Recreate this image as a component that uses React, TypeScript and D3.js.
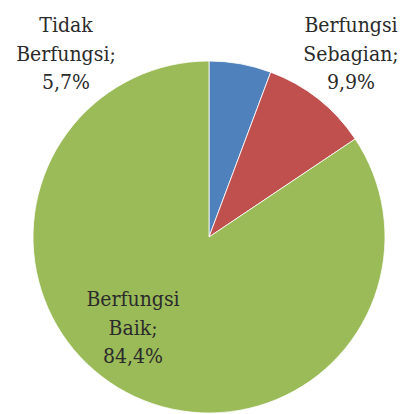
import React from "react";
import * as d3 from "d3";

const categories = ["Tidak Berfungsi", "Berfungsi Sebagian", "Berfungsi Baik"];
const values = [5.7, 9.9, 84.4];
const labelLines = [
  ["Tidak", "Berfungsi;", "5,7%"],
  ["Berfungsi", "Sebagian;", "9,9%"],
  ["Berfungsi", "Baik;", "84,4%"],
];
const colors = ["#4F81BD", "#C0504D", "#9BBB59"];

const W = 401;
const H = 414;
const cx = 209;
const cy = 237;
const R = 176;
// label anchor positions (center x, first baseline y)
const labelPos = [
  [66, 32],
  [351, 32],
  [133, 306],
];
const lineH = 28.5;

export default function App() {
  const pie = d3
    .pie<number>()
    .sort(null)
    .value((d) => d)(values);
  const arc = d3.arc<d3.PieArcDatum<number>>().innerRadius(0).outerRadius(R);

  return (
    <svg
      width={W}
      height={H}
      style={{ position: "absolute", left: 0, top: 0, background: "#fff" }}
    >
      <g transform={`translate(${cx},${cy})`}>
        {pie.map((p, i) => (
          <path
            key={categories[i]}
            d={arc(p) || ""}
            fill={colors[i]}
            stroke="#ffffff"
            strokeWidth={0.8}
          />
        ))}
      </g>
      {labelLines.map((lines, i) => (
        <text
          key={categories[i]}
          textAnchor="middle"
          fontFamily="'DejaVu Serif Condensed', 'DejaVu Serif', serif"
          fontStretch="condensed"
          fontSize={21}
          fill="#2b2b2b"
        >
          {lines.map((ln, j) => (
            <tspan key={j} x={labelPos[i][0]} y={labelPos[i][1] + j * lineH}>
              {ln}
            </tspan>
          ))}
        </text>
      ))}
    </svg>
  );
}
